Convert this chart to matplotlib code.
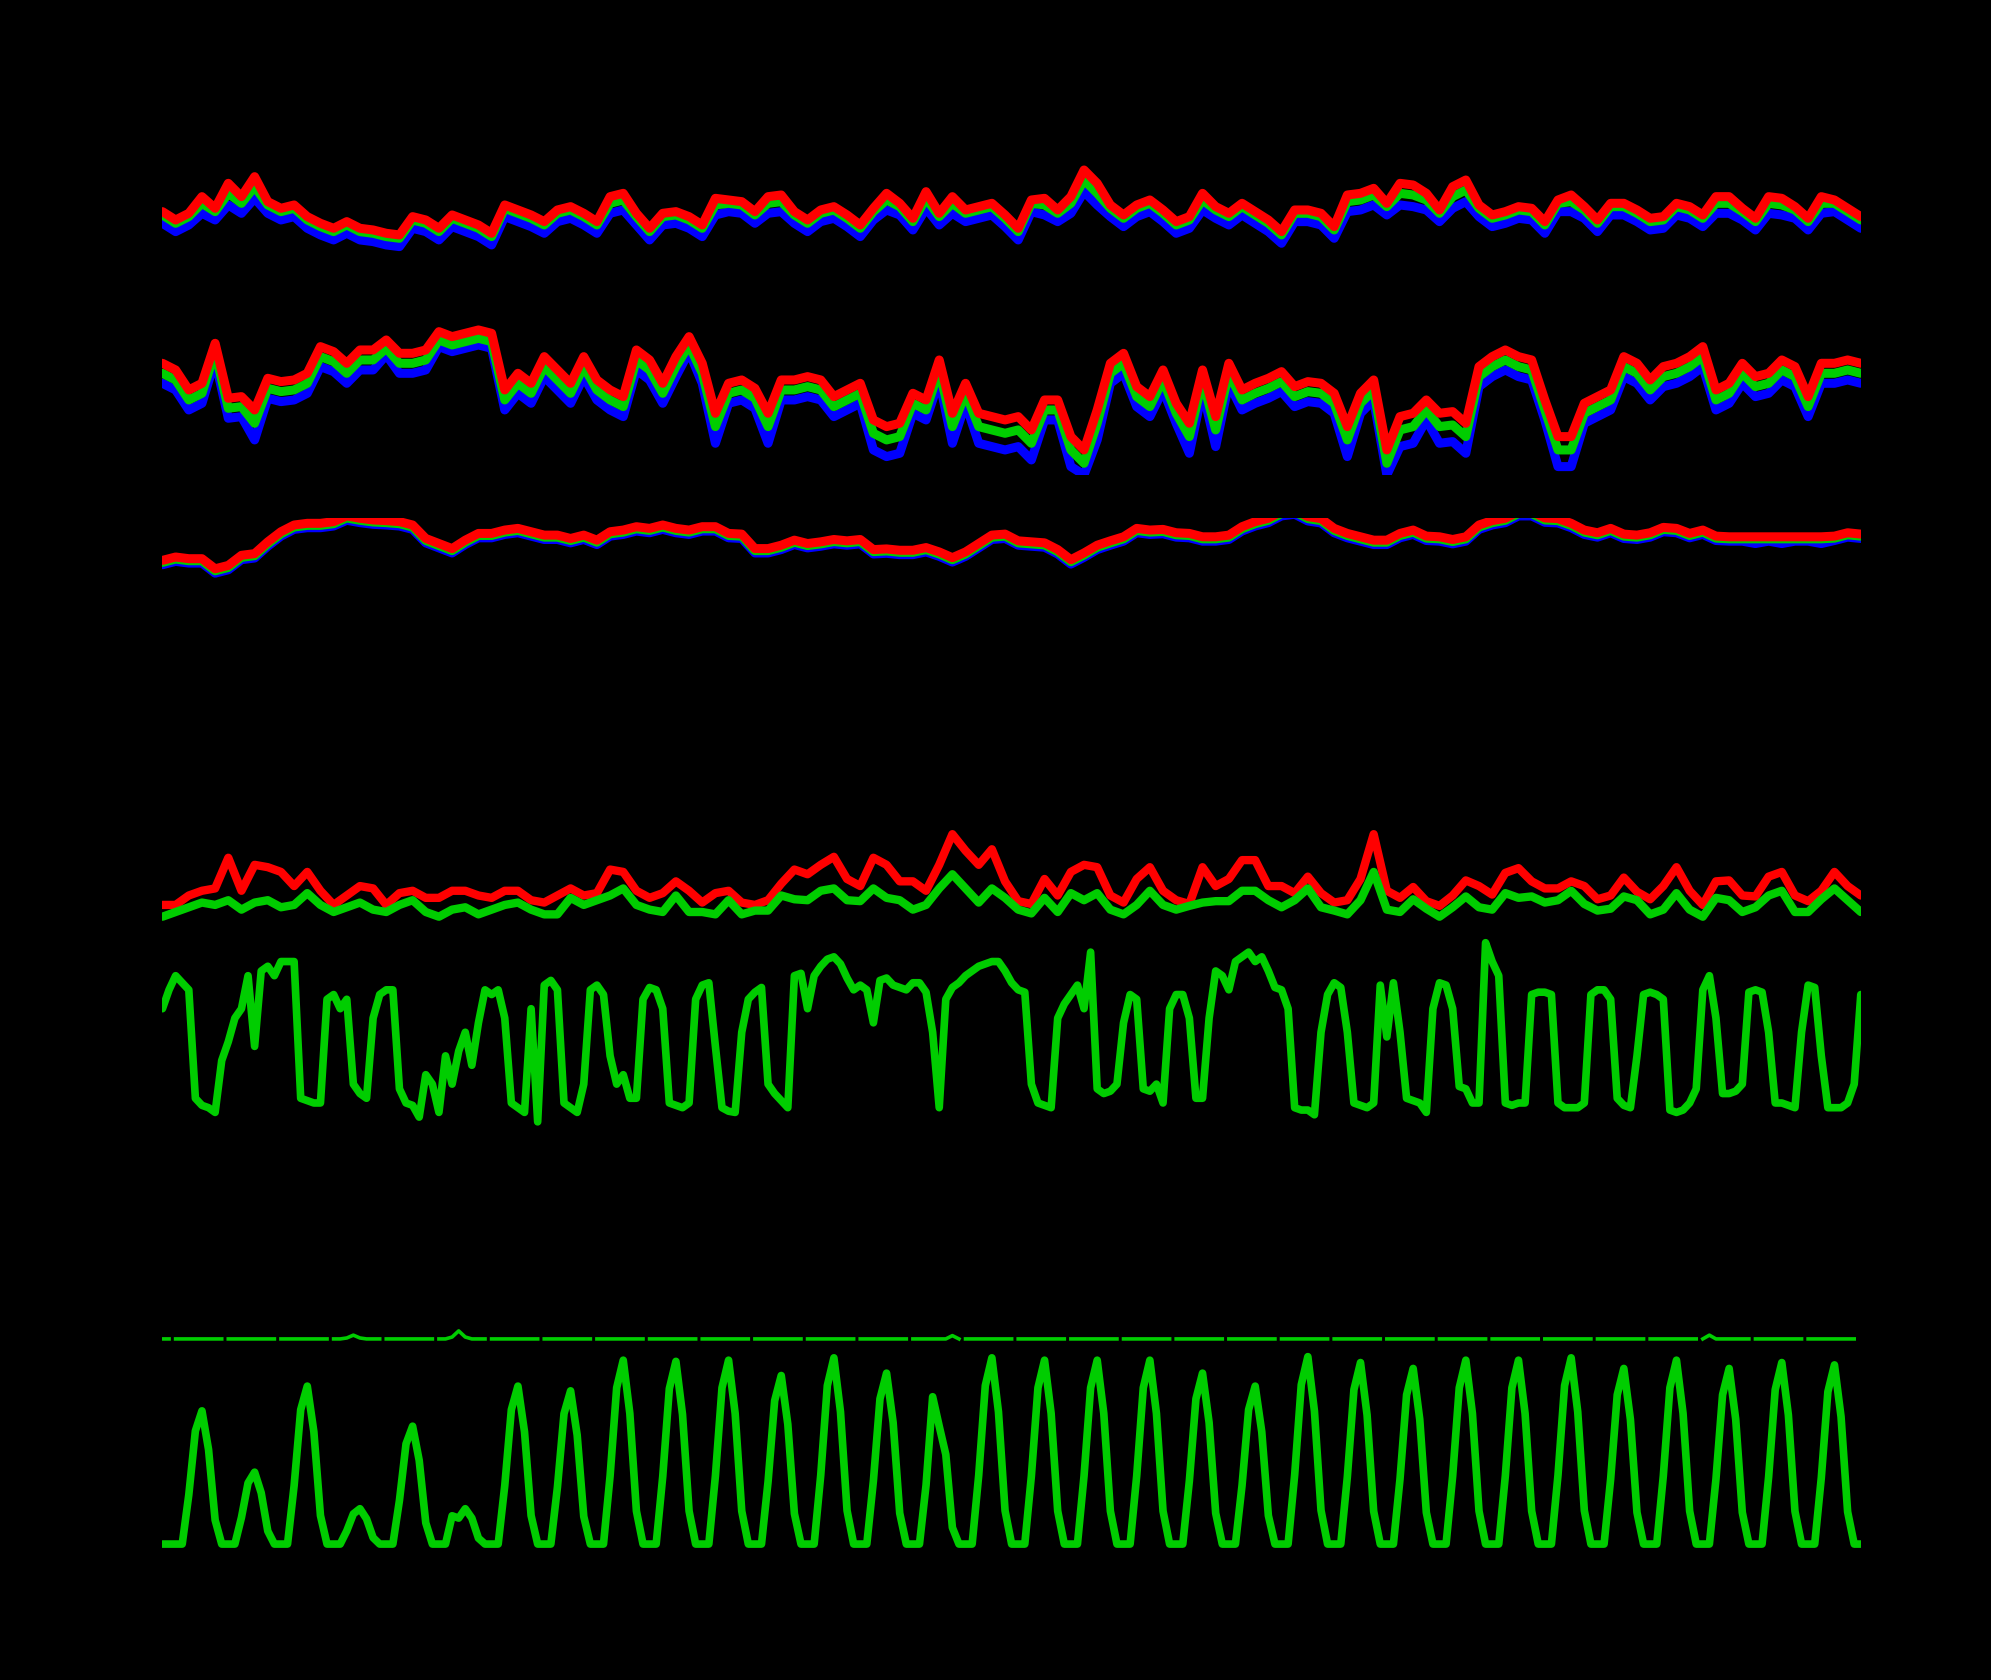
import matplotlib
matplotlib.use("Agg")
import matplotlib.pyplot as plt
import numpy as np

# 6-hourly series (t = 0, 6, 12 ... h)
temp_red = [11.5, 9.0, 11.0, 16.0, 12.5, 20.0, 16.0, 22.0, 14.5, 12.5,
            13.5, 10.0, 8.0, 6.5, 8.5, 6.5, 6.0, 5.0, 4.5, 10.0,
            9.0, 6.5, 10.5, 9.0, 7.5, 5.0, 13.5, 12.0, 10.5, 8.5,
            12.0, 13.0, 11.0, 8.5, 16.0, 17.0, 11.0, 6.5, 11.0, 11.5,
            10.0, 7.5, 15.5, 15.0, 14.5, 11.5, 16.0, 16.5, 11.5, 9.0,
            12.0, 13.0, 10.5, 7.5, 12.5, 17.0, 14.0, 9.5, 17.5, 11.0,
            16.0, 12.0, 13.0, 14.0, 10.5, 6.5, 15.0, 15.5, 12.0, 16.0,
            24.0, 20.0, 13.5, 10.5, 13.5, 15.0, 12.0, 8.5, 10.0, 17.0,
            13.0, 11.0, 14.0, 11.5, 9.0, 5.5, 12.0, 12.0, 11.0, 7.0,
            16.5, 17.0, 18.5, 14.0, 20.0, 19.5, 17.0, 12.0, 19.0, 21.0,
            13.5, 10.5, 11.5, 13.0, 12.5, 8.5, 15.0, 16.5, 13.0, 9.0,
            14.0, 14.0, 12.0, 9.5, 10.0, 14.0, 13.0, 10.5, 16.0, 16.0,
            12.5, 9.5, 16.0, 15.5, 13.0, 9.5, 16.0, 15.0, 12.5, 10.0]
temp_grn = [10.5, 8.0, 10.0, 14.0, 11.5, 17.0, 14.0, 19.0, 13.5, 11.5,
            12.5, 9.0, 7.0, 5.5, 7.5, 5.5, 5.0, 4.0, 3.5, 9.0,
            8.0, 5.5, 9.5, 8.0, 6.5, 4.0, 12.5, 11.0, 9.5, 7.5,
            11.0, 12.0, 10.0, 7.5, 14.0, 15.0, 10.0, 5.5, 10.0, 10.5,
            9.0, 6.5, 13.5, 14.0, 13.5, 10.5, 14.0, 14.5, 10.5, 8.0,
            11.0, 12.0, 9.5, 6.5, 11.5, 15.0, 13.0, 8.5, 15.5, 10.0,
            14.0, 11.0, 12.0, 13.0, 9.5, 5.5, 14.0, 13.5, 11.0, 14.0,
            21.0, 17.0, 12.5, 9.5, 12.5, 14.0, 11.0, 7.5, 9.0, 15.0,
            12.0, 10.0, 13.0, 10.5, 8.0, 4.5, 11.0, 11.0, 10.0, 6.0,
            14.5, 15.0, 16.5, 13.0, 17.0, 16.5, 15.0, 11.0, 16.0, 18.0,
            12.5, 9.5, 10.5, 12.0, 11.5, 7.5, 14.0, 14.5, 12.0, 8.0,
            13.0, 13.0, 11.0, 8.5, 9.0, 13.0, 12.0, 9.5, 14.0, 14.0,
            11.5, 8.5, 14.0, 13.5, 12.0, 8.5, 14.0, 14.0, 11.5, 9.0]
temp_blu = [8.0, 5.5, 7.5, 11.0, 9.0, 13.5, 11.0, 15.5, 11.0, 9.0,
            10.0, 6.5, 4.5, 3.0, 5.0, 3.0, 2.5, 1.5, 1.0, 6.5,
            5.5, 3.0, 7.0, 5.5, 4.0, 1.5, 10.0, 8.5, 7.0, 5.0,
            8.5, 9.5, 7.5, 5.0, 11.0, 12.0, 7.5, 3.0, 7.5, 8.0,
            6.5, 4.0, 10.5, 11.5, 11.0, 8.0, 11.0, 11.5, 8.0, 5.5,
            8.5, 9.5, 7.0, 4.0, 9.0, 12.0, 10.5, 6.0, 12.5, 7.5,
            11.0, 8.5, 9.5, 10.5, 7.0, 3.0, 11.5, 10.5, 8.5, 11.0,
            17.5, 13.5, 10.0, 7.0, 10.0, 11.5, 8.5, 5.0, 6.5, 12.0,
            9.5, 7.5, 10.5, 8.0, 5.5, 2.0, 8.5, 8.5, 7.5, 3.5,
            11.5, 12.0, 13.5, 10.5, 13.5, 13.0, 12.0, 8.5, 12.5, 14.5,
            10.0, 7.0, 8.0, 9.5, 9.0, 5.0, 11.5, 11.5, 9.5, 5.5,
            10.5, 10.5, 8.5, 6.0, 6.5, 10.5, 9.5, 7.0, 11.0, 11.0,
            9.0, 6.0, 11.0, 10.5, 9.5, 6.0, 11.0, 11.5, 9.0, 6.5]

rh_red = [72, 68, 56, 60, 84, 51, 52, 44, 63, 61,
          62, 66, 82, 79, 72, 80, 80, 86, 78, 78,
          80, 91, 88, 90, 92, 90, 56, 66, 60, 76,
          68, 60, 76, 62, 56, 52, 80, 74, 60, 76,
          88, 72, 42, 60, 62, 57, 42, 62, 62, 64,
          62, 52, 56, 60, 38, 34, 36, 54, 50, 74,
          42, 60, 42, 40, 38, 40, 32, 50, 50, 28,
          20, 44, 72, 78, 58, 52, 68, 48, 36, 68,
          40, 72, 56, 60, 63, 67, 58, 61, 60, 54,
          34, 54, 62, 20, 40, 42, 50, 42, 43, 36,
          70, 76, 80, 76, 74, 50, 28, 28, 48, 52,
          56, 76, 72, 62, 70, 72, 76, 82, 56, 60,
          72, 64, 66, 74, 70, 52, 72, 72, 74, 72]
rh_grn = [66, 62, 50, 54, 79, 45, 46, 36, 57, 55,
          56, 60, 76, 73, 66, 74, 74, 81, 72, 72,
          74, 86, 83, 85, 87, 85, 50, 60, 54, 70,
          62, 54, 70, 56, 50, 46, 74, 68, 54, 70,
          83, 66, 34, 54, 56, 51, 34, 56, 56, 58,
          56, 46, 50, 54, 30, 26, 28, 48, 44, 68,
          34, 54, 34, 32, 30, 32, 24, 44, 44, 20,
          12, 36, 66, 72, 52, 46, 62, 42, 28, 62,
          32, 66, 50, 54, 57, 61, 52, 55, 54, 48,
          26, 48, 56, 12, 32, 34, 44, 34, 35, 28,
          64, 70, 74, 70, 68, 44, 20, 20, 42, 46,
          50, 70, 66, 56, 64, 66, 70, 76, 50, 54,
          66, 58, 60, 68, 64, 46, 66, 66, 68, 66]
rh_blu = [60, 56, 44, 48, 74, 39, 40, 26, 51, 49,
          50, 54, 70, 67, 60, 68, 68, 77, 66, 66,
          68, 82, 79, 81, 83, 81, 44, 54, 48, 64,
          56, 48, 64, 50, 44, 40, 68, 62, 48, 64,
          79, 60, 24, 48, 50, 45, 24, 50, 50, 52,
          50, 40, 44, 48, 20, 16, 18, 42, 38, 62,
          24, 48, 24, 22, 20, 22, 14, 38, 38, 10,
          5, 26, 60, 66, 46, 40, 56, 36, 18, 56,
          22, 60, 44, 48, 51, 55, 46, 49, 48, 42,
          16, 42, 50, 5, 22, 24, 38, 24, 25, 18,
          58, 64, 68, 64, 62, 38, 10, 10, 36, 40,
          44, 64, 60, 50, 58, 60, 64, 70, 44, 48,
          60, 52, 54, 62, 58, 40, 60, 60, 62, 60]

pres_red = [1007.0, 1008.0, 1007.5, 1007.5, 1004.5, 1005.5, 1008.5, 1009.0, 1012.5, 1015.5,
            1017.5, 1018.0, 1018.0, 1018.5, 1020.2, 1019.5, 1019.0, 1018.8, 1018.5, 1017.5,
            1013.5, 1012.0, 1010.5, 1013.0, 1015.0, 1015.0, 1016.0, 1016.5, 1015.5, 1014.5,
            1014.5, 1013.5, 1014.5, 1013.0, 1015.5, 1016.0, 1017.0, 1016.5, 1017.5, 1016.5,
            1016.0, 1017.0, 1017.0, 1015.0, 1014.8, 1010.5, 1010.5, 1011.5, 1013.0, 1012.0,
            1012.5, 1013.2, 1012.8, 1013.2, 1010.2, 1010.4, 1010.0, 1010.0, 1010.8, 1009.5,
            1007.8, 1009.5, 1012.0, 1014.5, 1014.8, 1012.8, 1012.5, 1012.2, 1010.2, 1007.2,
            1009.2, 1011.5, 1012.8, 1014.0, 1016.5, 1016.0, 1016.2, 1015.2, 1015.0, 1014.0,
            1014.0, 1014.5, 1017.0, 1018.5, 1019.5, 1021.5, 1022.0, 1020.0, 1019.4, 1016.5,
            1015.0, 1014.0, 1013.0, 1013.0, 1015.0, 1016.0, 1014.2, 1014.0, 1013.2, 1014.0,
            1017.5, 1018.8, 1019.5, 1021.5, 1021.5, 1019.6, 1019.4, 1018.0, 1016.0, 1015.2,
            1016.5, 1014.8, 1014.5, 1015.2, 1016.8, 1016.5, 1015.0, 1016.0, 1014.2, 1014.0,
            1014.0, 1014.0, 1014.0, 1014.0, 1014.0, 1014.0, 1014.0, 1014.2, 1015.2, 1014.8]
pres_grn = [1006.4, 1007.4, 1006.9, 1006.9, 1003.9, 1004.9, 1007.9, 1008.4, 1011.9, 1014.9,
            1016.9, 1017.4, 1017.4, 1017.9, 1019.6, 1018.9, 1018.4, 1018.2, 1017.9, 1016.9,
            1012.9, 1011.4, 1009.9, 1012.4, 1014.4, 1014.4, 1015.4, 1015.9, 1014.9, 1013.9,
            1013.9, 1012.9, 1013.9, 1012.4, 1014.9, 1015.4, 1016.4, 1015.9, 1016.9, 1015.9,
            1015.4, 1016.4, 1016.4, 1014.4, 1014.2, 1009.9, 1009.9, 1010.9, 1012.4, 1011.4,
            1011.9, 1012.6, 1012.2, 1012.6, 1009.6, 1009.8, 1009.4, 1009.4, 1010.2, 1008.9,
            1007.2, 1008.9, 1011.4, 1013.9, 1014.2, 1012.2, 1011.9, 1011.6, 1009.6, 1006.6,
            1008.6, 1010.9, 1012.2, 1013.4, 1015.9, 1015.4, 1015.6, 1014.6, 1014.4, 1013.4,
            1013.4, 1013.9, 1016.4, 1017.9, 1018.9, 1020.9, 1021.4, 1019.4, 1018.8, 1015.9,
            1014.4, 1013.4, 1012.4, 1012.4, 1014.4, 1015.4, 1013.6, 1013.4, 1012.6, 1013.4,
            1016.9, 1018.2, 1018.9, 1020.9, 1020.9, 1019.0, 1018.8, 1017.4, 1015.4, 1014.6,
            1015.9, 1014.2, 1013.9, 1014.6, 1016.2, 1015.9, 1014.4, 1015.4, 1013.6, 1013.4,
            1013.4, 1013.4, 1013.4, 1013.4, 1013.4, 1013.4, 1013.4, 1013.6, 1014.6, 1014.2]
pres_blu = [1005.7, 1006.7, 1006.2, 1006.2, 1003.2, 1004.2, 1007.2, 1007.7, 1011.2, 1014.2,
            1016.2, 1016.7, 1016.7, 1017.2, 1018.9, 1018.2, 1017.7, 1017.5, 1017.2, 1016.2,
            1012.2, 1010.7, 1009.2, 1011.7, 1013.7, 1013.7, 1014.7, 1015.2, 1014.2, 1013.2,
            1013.2, 1012.2, 1013.2, 1011.7, 1014.2, 1014.7, 1015.7, 1015.2, 1016.2, 1015.2,
            1014.7, 1015.7, 1015.7, 1013.7, 1013.5, 1009.2, 1009.2, 1010.2, 1011.7, 1010.7,
            1011.2, 1011.9, 1011.5, 1011.9, 1008.9, 1009.1, 1008.7, 1008.7, 1009.5, 1008.2,
            1006.5, 1008.2, 1010.7, 1013.2, 1013.5, 1011.5, 1011.2, 1010.9, 1008.9, 1005.9,
            1007.9, 1010.2, 1011.5, 1012.7, 1015.2, 1014.7, 1014.9, 1013.9, 1013.7, 1012.7,
            1012.7, 1013.2, 1015.7, 1017.2, 1018.2, 1020.2, 1020.7, 1018.7, 1018.1, 1015.2,
            1013.7, 1012.7, 1011.7, 1011.7, 1013.7, 1014.7, 1012.9, 1012.7, 1011.9, 1012.7,
            1016.2, 1017.5, 1018.2, 1020.2, 1020.2, 1018.3, 1018.1, 1016.7, 1014.7, 1013.9,
            1015.2, 1013.5, 1013.2, 1013.9, 1015.5, 1015.2, 1013.7, 1014.7, 1012.9, 1012.7,
            1012.7, 1012.0, 1012.7, 1012.0, 1012.7, 1012.7, 1012.0, 1012.9, 1013.9, 1013.5]

wind_gust = [3.5, 3.5, 4.5, 5.0, 5.25, 8.5, 5.0, 7.75, 7.5, 7.0,
             5.5, 7.0, 5.0, 3.5, 4.5, 5.5, 5.25, 3.5, 4.75, 5.0,
             4.25, 4.25, 5.0, 5.0, 4.5, 4.25, 5.0, 5.0, 4.0, 3.75,
             4.5, 5.25, 4.5, 4.75, 7.25, 7.0, 5.0, 4.25, 4.75, 6.0,
             5.0, 3.75, 4.75, 5.0, 3.75, 3.5, 4.0, 5.75, 7.25, 6.75,
             7.75, 8.6, 6.25, 5.5, 8.5, 7.75, 6.0, 6.0, 5.0, 7.75,
             11.0, 9.25, 7.75, 9.4, 6.0, 3.9, 3.6, 6.25, 4.5, 7.0,
             7.75, 7.5, 4.5, 3.75, 6.25, 7.5, 5.0, 4.0, 3.6, 7.5,
             5.5, 6.25, 8.25, 8.25, 5.5, 5.5, 4.75, 6.5, 4.75, 3.75,
             4.0, 6.25, 11.0, 5.0, 4.25, 5.4, 3.9, 3.4, 4.5, 6.1,
             5.5, 4.6, 6.9, 7.4, 6.0, 5.25, 5.25, 6.0, 5.5, 4.1,
             4.5, 6.4, 4.9, 4.1, 5.5, 7.5, 5.0, 3.5, 6.0, 6.1,
             4.5, 4.4, 6.5, 7.0, 4.5, 3.9, 5.0, 7.0, 5.5, 4.5]
wind_mean = [2.25, 2.75, 3.25, 3.75, 3.5, 4.0, 3.0, 3.75, 4.0, 3.25,
             3.5, 4.75, 3.5, 2.75, 3.25, 3.75, 3.0, 2.75, 3.5, 4.0,
             2.75, 2.25, 3.0, 3.25, 2.5, 3.0, 3.5, 3.75, 3.0, 2.5,
             2.5, 4.25, 3.5, 4.0, 4.5, 5.25, 3.5, 3.0, 2.75, 4.5,
             2.75, 2.75, 2.5, 4.0, 2.5, 2.9, 2.9, 4.5, 4.1, 4.0,
             5.0, 5.25, 4.0, 3.9, 5.25, 4.25, 4.0, 3.0, 3.5, 5.25,
             6.75, 5.25, 3.75, 5.25, 4.25, 3.0, 2.6, 4.25, 2.75, 4.75,
             4.0, 4.75, 3.0, 2.5, 3.5, 5.0, 3.5, 3.0, 3.4, 3.75,
             3.9, 3.9, 5.0, 5.0, 4.0, 3.25, 4.0, 5.25, 3.25, 2.9,
             2.5, 4.0, 7.0, 3.0, 2.75, 4.1, 3.1, 2.25, 3.25, 4.4,
             3.25, 3.0, 4.75, 4.25, 4.4, 3.75, 4.0, 5.0, 3.6, 2.9,
             3.1, 4.4, 4.0, 2.5, 3.0, 4.75, 3.0, 2.25, 4.25, 4.0,
             2.75, 3.25, 4.5, 5.0, 2.75, 2.75, 4.1, 5.25, 4.0, 2.75]

# 3-hourly series (t = 0, 3, 6 ... h)
wind_dir = [240, 272, 296, 284, 272, 88, 76, 72, 64, 152,
            184, 224, 240, 296, 176, 304, 312, 296, 320, 320,
            320, 88, 84, 80, 80, 256, 264, 240, 256, 112,
            96, 88, 224, 264, 272, 272, 104, 80, 76, 56,
            128, 112, 64, 160, 112, 168, 200, 144, 216, 272,
            264, 272, 224, 80, 72, 64, 240, 48, 280, 288,
            272, 80, 72, 64, 112, 272, 280, 264, 160, 112,
            128, 88, 88, 256, 276, 272, 240, 80, 76, 72,
            80, 256, 280, 284, 176, 72, 66, 64, 200, 256,
            268, 276, 112, 96, 84, 72, 296, 300, 240, 296,
            312, 324, 328, 316, 292, 272, 280, 272, 216, 288,
            292, 280, 276, 272, 284, 284, 268, 200, 72, 256,
            276, 284, 296, 304, 312, 316, 320, 320, 304, 284,
            272, 268, 112, 80, 76, 72, 224, 248, 264, 280,
            240, 336, 104, 96, 100, 112, 216, 264, 256, 104,
            100, 112, 80, 240, 264, 264, 224, 88, 88, 224,
            304, 296, 272, 320, 328, 336, 320, 328, 304, 276,
            272, 240, 72, 68, 68, 60, 200, 264, 284, 276,
            200, 80, 76, 72, 80, 280, 192, 284, 200, 88,
            84, 80, 64, 240, 284, 280, 240, 108, 104, 80,
            80, 352, 320, 296, 80, 76, 80, 80, 264, 268,
            268, 264, 80, 72, 72, 72, 80, 264, 272, 272,
            256, 88, 76, 72, 160, 264, 268, 264, 256, 68,
            64, 68, 80, 104, 272, 296, 224, 96, 96, 100,
            112, 268, 272, 268, 200, 80, 80, 76, 72, 200,
            280, 276, 160, 72, 72, 72, 80, 112, 264]

precip = ([0.0] * 28 + [0.1, 0.4, 0.1] + [0.0] * 13 + [0.2, 0.85, 0.2]
          + [0.0] * 73 + [0.35] + [0.0] * 114 + [0.4] + [0.0] * 23)

radiation = [0, 0, 0, 0, 209, 480, 565, 401,
             102, 0, 0, 0, 113, 259, 305, 217,
             55, 0, 0, 0, 248, 570, 670, 476,
             121, 0, 0, 0, 56, 128, 150, 107,
             27, 0, 0, 0, 185, 425, 500, 355,
             90, 0, 0, 0, 120, 110, 150, 110,
             25, 0, 0, 0, 248, 570, 670, 476,
             121, 0, 0, 0, 241, 553, 650, 462,
             117, 0, 0, 0, 289, 663, 780, 554,
             140, 0, 0, 0, 287, 659, 775, 550,
             140, 0, 0, 0, 289, 663, 780, 554,
             140, 0, 0, 0, 265, 608, 715, 508,
             129, 0, 0, 0, 292, 672, 790, 561,
             142, 0, 0, 0, 268, 616, 725, 515,
             131, 0, 0, 0, 250, 625, 500, 380,
             70, 0, 0, 0, 292, 672, 790, 561,
             142, 0, 0, 0, 289, 663, 780, 554,
             140, 0, 0, 0, 289, 663, 780, 554,
             140, 0, 0, 0, 289, 663, 780, 554,
             140, 0, 0, 0, 268, 616, 725, 515,
             131, 0, 0, 0, 248, 570, 670, 476,
             121, 0, 0, 0, 294, 676, 795, 564,
             143, 0, 0, 0, 285, 655, 770, 547,
             139, 0, 0, 0, 276, 633, 745, 529,
             134, 0, 0, 0, 289, 663, 780, 554,
             140, 0, 0, 0, 289, 663, 780, 554,
             140, 0, 0, 0, 292, 672, 790, 561,
             142, 0, 0, 0, 276, 633, 745, 529,
             134, 0, 0, 0, 289, 663, 780, 554,
             140, 0, 0, 0, 276, 633, 745, 529,
             134, 0, 0, 0, 285, 655, 770, 547,
             139, 0, 0, 0, 281, 646, 760, 540,
             137, 0, 0]

RED, GRN, BLU = '#ff0000', '#00cd00', '#0000ff'

t6 = np.arange(len(temp_red)) * 6.0
t3 = np.arange(len(wind_dir)) * 3.0

fig = plt.figure(figsize=(19.91, 16.80), dpi=100, facecolor='black')


def panel(bottom, height, ylim):
    ax = fig.add_axes([0.0816, bottom, 0.853, height])
    ax.set_facecolor('none')
    ax.set_xlim(0, 774)
    ax.set_ylim(*ylim)
    ax.axis('off')
    return ax


def lines(ax, t, series, colors, lw=5.5):
    for s, c in zip(series, colors):
        ax.plot(t, s, color=c, linewidth=lw, solid_capstyle='round',
                solid_joinstyle='round')


ax1 = panel(0.8314, 0.0793, (-10, 30))
lines(ax1, t6, [temp_blu, temp_grn, temp_red], [BLU, GRN, RED], lw=6.5)

ax2 = panel(0.7173, 0.1091, (5, 115))
lines(ax2, t6, [rh_blu, rh_grn, rh_red], [BLU, GRN, RED], lw=6.5)

ax3 = panel(0.6484, 0.0431, (998, 1019.5))
lines(ax3, t6, [pres_blu, pres_grn, pres_red], [BLU, GRN, RED], lw=6.5)

ax4 = panel(0.4417, 0.0730, (0, 13))
lines(ax4, t6, [wind_gust, wind_mean], [RED, GRN], lw=6.0)

ax5 = panel(0.3154, 0.1333, (0, 380))
lines(ax5, t3, [wind_dir], [GRN])

# precipitation is broken at every day change
tp = np.arange(len(precip)) * 3.0
pt, pv = [], []
for k in range(len(precip)):
    if k > 0 and (tp[k] - 5.5) // 24 != (tp[k - 1] - 5.5) // 24:
        pt.append(np.nan)
        pv.append(np.nan)
    pt.append(tp[k])
    pv.append(precip[k])
ax6 = panel(0.1974, 0.0281, (-1, 4))
ax6.plot(pt, pv, color=GRN, linewidth=2.6, solid_capstyle='projecting')

ax7 = panel(0.0753, 0.1263, (-40, 860))
lines(ax7, np.arange(len(radiation)) * 3.0, [radiation], [GRN])

fig.savefig('out.png', dpi=100, facecolor='black')
